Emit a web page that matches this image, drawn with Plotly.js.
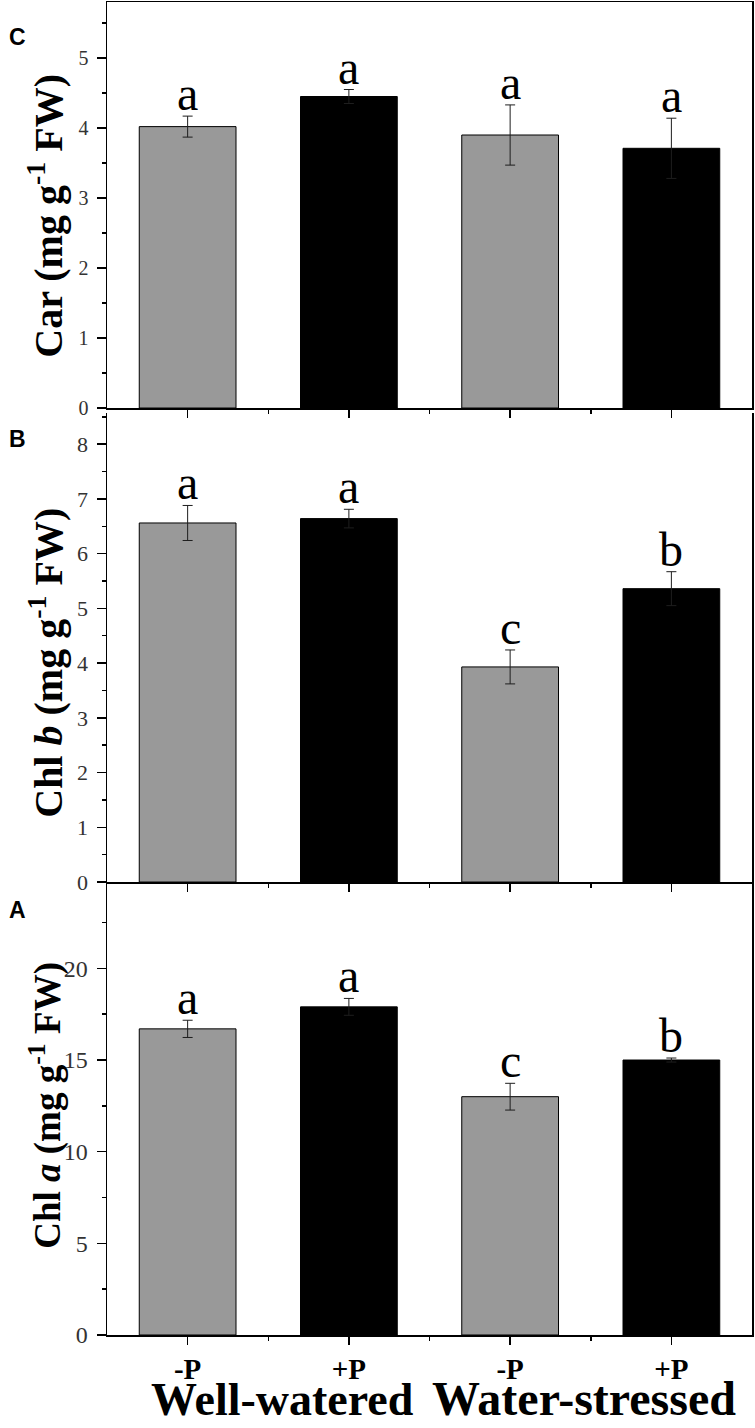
<!DOCTYPE html>
<html>
<head>
<meta charset="utf-8">
<script src="https://cdn.plot.ly/plotly-3.0.1.min.js"></script>
<style>
  body { margin: 0; background: #fff; }
  #chart { width: 755px; height: 1428px; }
</style>
</head>
<body>
<div id="chart"></div>
<script>
// bar positions and x tick labels (shared by the three panels)
const positions = [0, 1, 2, 3];
const treatments = ['-P', '+P', '-P', '+P'];
const barColors = ['#999999', '#000000', '#999999', '#000000'];
const groups = ['Well-watered', 'Water-stressed'];
const groupCenters = [0.5, 2.5];

// panel C - carotenoids
const carMean = [4.02, 4.45, 3.90, 3.71];
const carErr = [0.15, 0.10, 0.43, 0.43];
const carLetters = ['a', 'a', 'a', 'a'];

// panel B - chlorophyll b
const chlbMean = [6.56, 6.64, 3.93, 5.36];
const chlbErr = [0.32, 0.17, 0.31, 0.31];
const chlbLetters = ['a', 'a', 'c', 'b'];

// panel A - chlorophyll a
const chlaMean = [16.7, 17.9, 13.0, 15.0];
const chlaErr = [0.47, 0.46, 0.73, 0.11];
const chlaLetters = ['a', 'a', 'c', 'b'];

const SERIF = 'Liberation Serif, Times New Roman, serif';
const SANS = 'Liberation Sans, Arial, sans-serif';

function barTrace(means, errs, xa, ya) {
  return {
    type: 'bar',
    x: positions,
    y: means,
    xaxis: xa,
    yaxis: ya,
    width: 0.6,
    marker: {
      color: barColors,
      line: { color: '#000', width: 1 }
    },
    error_y: {
      type: 'data',
      array: errs,
      visible: true,
      color: '#1e1e1e',
      thickness: 1,
      width: 5
    },
    hoverinfo: 'skip',
    showlegend: false
  };
}

function letterNotes(means, errs, letters, xa, ya) {
  return letters.map((t, i) => ({
    x: positions[i],
    y: means[i] + errs[i],
    xref: xa,
    yref: ya,
    text: t,
    showarrow: false,
    xanchor: 'center',
    yanchor: 'bottom',
    yshift: -6,
    font: { family: SERIF, size: 48, color: '#000' }
  }));
}

function xAxis(domainAnchor, showLabels, mirror) {
  return {
    anchor: domainAnchor,
    domain: [0, 1],
    range: [-0.5, 3.5],
    tickmode: 'array',
    tickvals: positions,
    ticktext: treatments,
    showticklabels: showLabels,
    ticks: 'outside',
    ticklen: 8,
    tickwidth: 1.5,
    tickcolor: '#000',
    ticklabelstandoff: 0,
    minor: { tickvals: [0.5, 1.5, 2.5], ticks: 'outside', ticklen: 4, tickwidth: 1.5, tickcolor: '#000' },
    showline: true,
    linecolor: '#000',
    linewidth: 1.5,
    mirror: mirror,
    showgrid: false,
    zeroline: false,
    fixedrange: true,
    tickfont: { family: SERIF, size: 29, color: '#000', weight: 'bold' }
  };
}

function yAxis(anchor, domain, range, dtick, tickSize) {
  return {
    anchor: anchor,
    domain: domain,
    range: range,
    dtick: dtick,
    tick0: 0,
    ticks: 'outside',
    ticklen: 9,
    tickwidth: 1.5,
    tickcolor: '#000',
    ticklabelstandoff: 4,
    minor: { dtick: dtick / 2, ticks: 'outside', ticklen: 4, tickwidth: 1.5, tickcolor: '#000' },
    showline: true,
    linecolor: '#000',
    linewidth: 1.5,
    mirror: true,
    showgrid: false,
    zeroline: false,
    fixedrange: true,
    tickfont: { family: SERIF, size: tickSize, color: '#333' }
  };
}

const data = [
  barTrace(chlaMean, chlaErr, 'x', 'y'),
  barTrace(chlbMean, chlbErr, 'x2', 'y2'),
  barTrace(carMean, carErr, 'x3', 'y3')
];

const annotations = []
  .concat(letterNotes(chlaMean, chlaErr, chlaLetters, 'x', 'y'))
  .concat(letterNotes(chlbMean, chlbErr, chlbLetters, 'x2', 'y2'))
  .concat(letterNotes(carMean, carErr, carLetters, 'x3', 'y3'));

// y axis titles, rotated, placed in the left margin
[
  ['Car (mg g<sup>-1</sup> FW)', 0.8395, 40],
  ['Chl <i>b</i> (mg g<sup>-1</sup> FW)', 0.5041, 40],
  ['Chl <i>a</i> (mg g<sup>-1</sup> FW)', 0.1725, 37]
].forEach(([t, y, size]) => {
  annotations.push({
    x: -0.095, y: y, xref: 'paper', yref: 'paper',
    xanchor: 'center', yanchor: 'middle',
    text: t, textangle: -90, showarrow: false,
    font: { family: SERIF, size: size, color: '#000', weight: 'bold' }
  });
});

// panel letters
[['C', 0.9737], ['B', 0.6722], ['A', 0.3188]].forEach(([t, y]) => {
  annotations.push({
    x: -0.138, y: y, xref: 'paper', yref: 'paper',
    xanchor: 'center', yanchor: 'middle',
    text: t, showarrow: false,
    font: { family: SANS, size: 23, color: '#000', weight: 'bold' }
  });
});

// group labels under the treatments
groups.forEach((g, i) => {
  annotations.push({
    x: groupCenters[i], y: 0, xref: 'x', yref: 'paper',
    xanchor: 'center',
    xshift: i === 0 ? 14 : -7,
    yanchor: 'bottom', yshift: -92,
    text: g, showarrow: false,
    font: { family: SERIF, size: i === 0 ? 46 : 48, color: '#000', weight: 'bold' }
  });
});

const layout = {
  width: 755,
  height: 1428,
  margin: { l: 107, r: 3, t: 2, b: 93 },
  paper_bgcolor: '#fff',
  plot_bgcolor: '#fff',
  xaxis: xAxis('y', true, false),
  xaxis2: xAxis('y2', false, false),
  xaxis3: xAxis('y3', false, true),
  yaxis: yAxis('x', [0, 0.3383], [0, 24.6], 5, 24),
  yaxis2: yAxis('x2', [0.3398, 0.6917], [0, 8.57], 1, 22),
  yaxis3: yAxis('x3', [0.6954, 1], [0, 5.8], 1, 20),
  annotations: annotations
};

Plotly.newPlot('chart', data, layout, { displayModeBar: false, staticPlot: true });
</script>
</body>
</html>
